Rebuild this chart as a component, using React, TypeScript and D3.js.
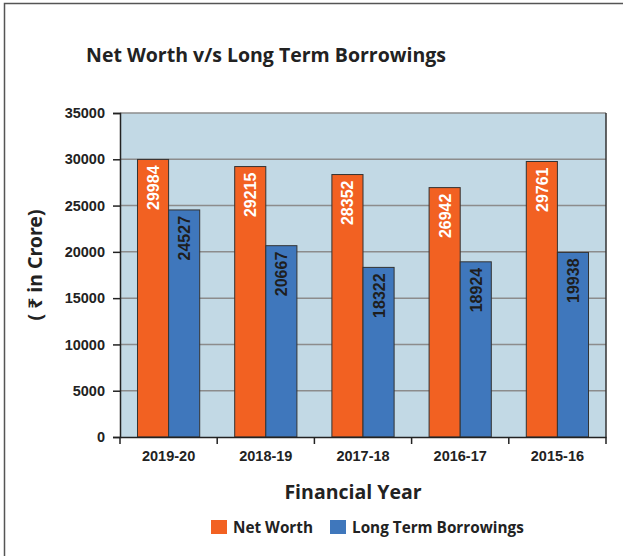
import { useEffect, useRef } from 'react'
import * as d3 from 'd3'

const years = ['2019-20', '2018-19', '2017-18', '2016-17', '2015-16']
const netWorth = [29984, 29215, 28352, 26942, 29761]
const borrowings = [24527, 20667, 18322, 18924, 19938]
const yTicks = [0, 5000, 10000, 15000, 20000, 25000, 30000, 35000]
const seriesNames = ['Net Worth', 'Long Term Borrowings']

const W = 623
const H = 556
const ORANGE = '#F26122'
const BLUE = '#3F77BC'
const ARIAL = '"Liberation Sans", Arial, sans-serif'
const TITLE_FONT = '"Open Sans", "Noto Sans", sans-serif'

export default function App() {
  const svgRef = useRef<SVGSVGElement>(null)

  useEffect(() => {
    if (!svgRef.current) return
    const svg = d3.select(svgRef.current)
    svg.selectAll('*').remove()

    const left = 120, right = 606, top = 113, bottom = 437

    // outer frame: only top and left edges show in the picture
    svg.append('path').attr('d', `M4.5,${H} V3.5 H${W}`)
      .attr('fill', 'none').attr('stroke', '#555').attr('stroke-width', 1.5)

    svg.append('text')
      .attr('x', 266).attr('y', 62)
      .attr('text-anchor', 'middle')
      .attr('font-family', TITLE_FONT).attr('font-weight', 700).attr('font-size', 19.5)
      .attr('fill', '#222')
      .text('Net Worth v/s Long Term Borrowings')

    const x = d3.scaleBand<string>().domain(years).range([left, right]).paddingInner(0.36).paddingOuter(0.18)
    const x1 = d3.scaleBand<string>().domain(['nw', 'lb']).range([0, x.bandwidth()])
    const y = d3.scaleLinear().domain([0, 35000]).range([bottom, top])

    svg.append('rect').attr('x', left).attr('y', top).attr('width', right - left).attr('height', bottom - top)
      .attr('fill', '#C2D9E5')

    svg.append('g').selectAll('line').data(yTicks.filter(t => t > 0)).join('line')
      .attr('x1', left).attr('x2', right)
      .attr('y1', d => y(d)).attr('y2', d => y(d))
      .attr('stroke', '#8C8C8C').attr('stroke-width', 1.5)

    const groups = svg.append('g').selectAll('g').data(years).join('g')
      .attr('transform', d => `translate(${x(d)},0)`)

    groups.each(function (_yr, i) {
      const g = d3.select(this)
      const items = [
        { key: 'nw', v: netWorth[i], fill: ORANGE, text: '#fff' },
        { key: 'lb', v: borrowings[i], fill: BLUE, text: '#1e1e1e' },
      ]
      items.forEach(it => {
        const bx = x1(it.key)!
        g.append('rect')
          .attr('x', bx).attr('y', y(it.v))
          .attr('width', x1.bandwidth()).attr('height', bottom - y(it.v))
          .attr('fill', it.fill).attr('stroke', '#333').attr('stroke-width', 1)
        const cx = bx + x1.bandwidth() / 2
        const ty = y(it.v) + 6
        g.append('text')
          .attr('transform', `translate(${cx + 6},${ty}) rotate(-90)`)
          .attr('text-anchor', 'end')
          .attr('font-family', ARIAL).attr('font-weight', 700).attr('font-size', 16)
          .attr('fill', it.text)
          .text(String(it.v))
      })
    })

    svg.append('line').attr('x1', right).attr('x2', right).attr('y1', top).attr('y2', bottom)
      .attr('stroke', '#333').attr('stroke-width', 1.5)

    const yAxis = svg.append('g').attr('transform', `translate(${left},0)`)
      .call(d3.axisLeft(y).tickValues(yTicks).tickSize(7).tickPadding(8).tickFormat(d => String(d)))
    yAxis.select('.domain').attr('stroke', '#222').attr('stroke-width', 1.5)
    yAxis.selectAll('.tick line').attr('stroke', '#222').attr('stroke-width', 1.5)
    yAxis.selectAll('.tick text')
      .attr('font-family', ARIAL).attr('font-weight', 700).attr('font-size', 14.5).attr('fill', '#222')

    const xAxis = svg.append('g').attr('transform', `translate(0,${bottom})`)
      .call(d3.axisBottom(x).tickSize(0).tickPadding(14))
    xAxis.select('.domain').attr('stroke', '#222').attr('stroke-width', 1.5)
    xAxis.selectAll('.tick text')
      .attr('font-family', ARIAL).attr('font-weight', 700).attr('font-size', 14.5).attr('fill', '#222')

    const boundaries = years.map(d => x(d)! - x.step() * x.paddingInner() / 2).concat([right])
    boundaries[0] = left
    svg.append('g').selectAll('line').data(boundaries).join('line')
      .attr('x1', d => d).attr('x2', d => d).attr('y1', bottom).attr('y2', bottom + 7)
      .attr('stroke', '#222').attr('stroke-width', 1.5)

    svg.append('text')
      .attr('x', 353).attr('y', 499)
      .attr('text-anchor', 'middle')
      .attr('font-family', TITLE_FONT).attr('font-weight', 700).attr('font-size', 19.5)
      .attr('fill', '#222')
      .text('Financial Year')

    svg.append('text')
      .attr('transform', `translate(42,265) rotate(-90)`)
      .attr('text-anchor', 'middle')
      .attr('font-family', '"Noto Sans", "DejaVu Sans", sans-serif').attr('font-weight', 700).attr('font-size', 19.5)
      .attr('fill', '#222')
      .text('( ₹ in Crore)')

    const legendX = [211, 330]
    seriesNames.forEach((name, i) => {
      svg.append('rect').attr('x', legendX[i]).attr('y', 520).attr('width', 16).attr('height', 14)
        .attr('fill', i === 0 ? ORANGE : BLUE)
      svg.append('text').attr('x', legendX[i] + 22).attr('y', 532.5)
        .attr('font-family', TITLE_FONT).attr('font-weight', 700).attr('font-size', 15.3)
        .attr('fill', '#222')
        .text(name)
    })
  }, [])

  return <svg ref={svgRef} width={W} height={H} style={{ position: 'absolute', left: 0, top: 0 }} />
}
